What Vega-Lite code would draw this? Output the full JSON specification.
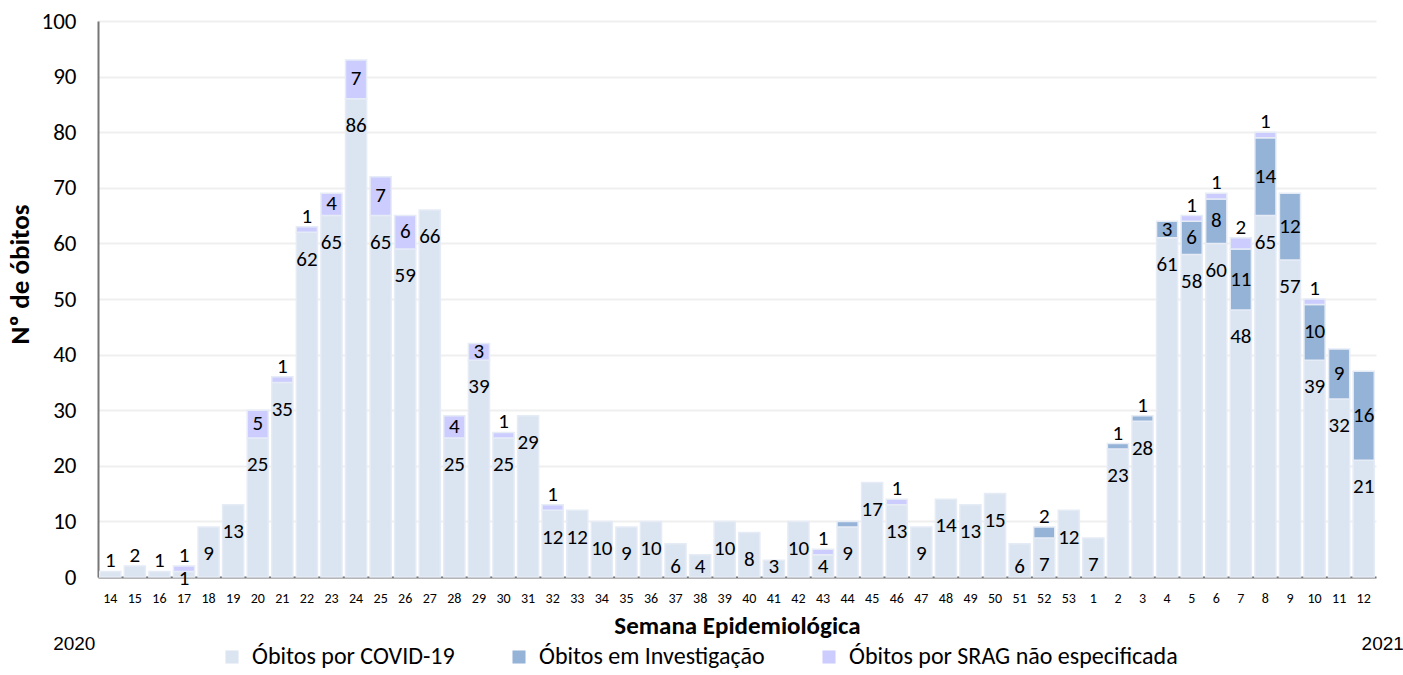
{
  "$schema": "https://vega.github.io/schema/vega-lite/v6.json",
  "width": 1278,
  "height": 556,
  "padding": {"left": 6, "top": 10, "right": 25, "bottom": 0},
  "background": "white",
  "config": {
    "font": "Carlito, Calibri, Liberation Sans, sans-serif",
    "view": {"stroke": null}
  },
  "data": {
    "values": [
      {"semana": "14", "covid": 1, "inv": 0, "srag": 0},
      {"semana": "15", "covid": 2, "inv": 0, "srag": 0},
      {"semana": "16", "covid": 1, "inv": 0, "srag": 0},
      {"semana": "17", "covid": 1, "inv": 0, "srag": 1},
      {"semana": "18", "covid": 9, "inv": 0, "srag": 0},
      {"semana": "19", "covid": 13, "inv": 0, "srag": 0},
      {"semana": "20", "covid": 25, "inv": 0, "srag": 5},
      {"semana": "21", "covid": 35, "inv": 0, "srag": 1},
      {"semana": "22", "covid": 62, "inv": 0, "srag": 1},
      {"semana": "23", "covid": 65, "inv": 0, "srag": 4},
      {"semana": "24", "covid": 86, "inv": 0, "srag": 7},
      {"semana": "25", "covid": 65, "inv": 0, "srag": 7},
      {"semana": "26", "covid": 59, "inv": 0, "srag": 6},
      {"semana": "27", "covid": 66, "inv": 0, "srag": 0},
      {"semana": "28", "covid": 25, "inv": 0, "srag": 4},
      {"semana": "29", "covid": 39, "inv": 0, "srag": 3},
      {"semana": "30", "covid": 25, "inv": 0, "srag": 1},
      {"semana": "31", "covid": 29, "inv": 0, "srag": 0},
      {"semana": "32", "covid": 12, "inv": 0, "srag": 1},
      {"semana": "33", "covid": 12, "inv": 0, "srag": 0},
      {"semana": "34", "covid": 10, "inv": 0, "srag": 0},
      {"semana": "35", "covid": 9, "inv": 0, "srag": 0},
      {"semana": "36", "covid": 10, "inv": 0, "srag": 0},
      {"semana": "37", "covid": 6, "inv": 0, "srag": 0},
      {"semana": "38", "covid": 4, "inv": 0, "srag": 0},
      {"semana": "39", "covid": 10, "inv": 0, "srag": 0},
      {"semana": "40", "covid": 8, "inv": 0, "srag": 0},
      {"semana": "41", "covid": 3, "inv": 0, "srag": 0},
      {"semana": "42", "covid": 10, "inv": 0, "srag": 0},
      {"semana": "43", "covid": 4, "inv": 0, "srag": 1},
      {"semana": "44", "covid": 9, "inv": 1, "srag": 0},
      {"semana": "45", "covid": 17, "inv": 0, "srag": 0},
      {"semana": "46", "covid": 13, "inv": 0, "srag": 1},
      {"semana": "47", "covid": 9, "inv": 0, "srag": 0},
      {"semana": "48", "covid": 14, "inv": 0, "srag": 0},
      {"semana": "49", "covid": 13, "inv": 0, "srag": 0},
      {"semana": "50", "covid": 15, "inv": 0, "srag": 0},
      {"semana": "51", "covid": 6, "inv": 0, "srag": 0},
      {"semana": "52", "covid": 7, "inv": 2, "srag": 0},
      {"semana": "53", "covid": 12, "inv": 0, "srag": 0},
      {"semana": "1", "covid": 7, "inv": 0, "srag": 0},
      {"semana": "2", "covid": 23, "inv": 1, "srag": 0},
      {"semana": "3", "covid": 28, "inv": 1, "srag": 0},
      {"semana": "4", "covid": 61, "inv": 3, "srag": 0},
      {"semana": "5", "covid": 58, "inv": 6, "srag": 1},
      {"semana": "6", "covid": 60, "inv": 8, "srag": 1},
      {"semana": "7", "covid": 48, "inv": 11, "srag": 2},
      {"semana": "8", "covid": 65, "inv": 14, "srag": 1},
      {"semana": "9", "covid": 57, "inv": 12, "srag": 0},
      {"semana": "10", "covid": 39, "inv": 10, "srag": 1},
      {"semana": "11", "covid": 32, "inv": 9, "srag": 0},
      {"semana": "12", "covid": 21, "inv": 16, "srag": 0}
    ]
  },
  "transform": [
    {"calculate": "datum.covid + datum.inv + datum.srag", "as": "total"},
    {"fold": ["covid", "inv", "srag"], "as": ["key", "n"]},
    {"filter": "datum.n > 0"},
    {"calculate": "datum.key == 'covid' ? 'Óbitos por COVID-19' : datum.key == 'inv' ? 'Óbitos em Investigação' : 'Óbitos por SRAG não especificada'", "as": "tipo"},
    {"calculate": "datum.key == 'covid' ? 0 : datum.key == 'inv' ? 1 : 2", "as": "ord"},
    {"stack": "n", "groupby": ["semana"], "sort": [{"field": "ord", "order": "ascending"}], "as": ["y0", "y1"]},
    {"calculate": "datum.key == 'covid' ? (datum.n >= 3 ? max(datum.n - 4.9, 1.8) : (datum.total == datum.n ? datum.n + 1.8 : -0.4)) : (datum.n >= 3 ? (datum.y0 + datum.y1) / 2 : datum.y1 + 1.8)", "as": "ylab"}
  ],
  "layer": [
    {
      "mark": {"type": "bar", "stroke": "#e6ecf6", "strokeWidth": 1.5},
      "encoding": {
        "x": {
          "field": "semana",
          "type": "ordinal",
          "sort": null,
          "scale": {"paddingInner": 0.14, "paddingOuter": 0.07},
          "axis": {
            "title": "Semana Epidemiológica",
            "titleFontSize": 25,
            "titleFontWeight": "bold",
            "titleColor": "#000000",
            "titlePadding": 8,
            "labelAngle": 0,
            "labelFontSize": 14,
            "labelColor": "#000000",
            "labelPadding": 14,
            "ticks": false,
            "domainColor": "#767676",
            "domainWidth": 2
          }
        },
        "y": {
          "field": "y0",
          "type": "quantitative",
          "scale": {"domain": [0, 100], "nice": false},
          "axis": {
            "title": "Nº de óbitos",
            "titleFontSize": 27,
            "titleFontWeight": "bold",
            "titleColor": "#000000",
            "titlePadding": 7,
            "titleY": 253,
            "values": [0, 10, 20, 30, 40, 50, 60, 70, 80, 90, 100],
            "labelFontSize": 23,
            "labelColor": "#000000",
            "labelPadding": 22,
            "ticks": false,
            "tickSize": 0,
            "domainColor": "#767676",
            "domainWidth": 2,
            "gridColor": "#efefef",
            "gridWidth": 2
          }
        },
        "y2": {"field": "y1"},
        "color": {
          "field": "tipo",
          "type": "nominal",
          "scale": {
            "domain": ["Óbitos por COVID-19", "Óbitos em Investigação", "Óbitos por SRAG não especificada"],
            "range": ["#dbe4f1", "#95b3d7", "#ccccff"]
          },
          "legend": {
            "orient": "none",
            "legendX": 122,
            "legendY": 624,
            "direction": "horizontal",
            "title": null,
            "symbolType": "square",
            "symbolSize": 170,
            "symbolStrokeWidth": 0,
            "symbolOffset": 0,
            "labelOffset": 8,
            "labelFontSize": 24,
            "labelColor": "#000000",
            "labelLimit": 500,
            "columnPadding": 52,
            "padding": 0
          }
        }
      }
    },
    {
      "transform": [{"filter": "!(datum.semana == '44' && datum.key == 'inv')"}],
      "mark": {"type": "text", "fontSize": 21, "color": "#000000", "baseline": "middle"},
      "encoding": {
        "x": {"field": "semana", "type": "ordinal", "sort": null},
        "y": {"field": "ylab", "type": "quantitative"},
        "text": {"field": "n", "type": "quantitative"}
      }
    },
    {
      "data": {"values": [{"ano": "2020", "semana": "14"}]},
      "mark": {"type": "text", "fontSize": 19, "font": "Liberation Sans", "color": "#000000", "dx": -36, "dy": 67, "baseline": "middle"},
      "encoding": {
        "x": {"field": "semana", "type": "ordinal", "sort": null},
        "y": {"datum": 0, "type": "quantitative"},
        "text": {"field": "ano"}
      }
    },
    {
      "data": {"values": [{"ano": "2021", "semana": "12"}]},
      "mark": {"type": "text", "fontSize": 19, "font": "Liberation Sans", "color": "#000000", "dx": 19, "dy": 67, "baseline": "middle"},
      "encoding": {
        "x": {"field": "semana", "type": "ordinal", "sort": null},
        "y": {"datum": 0, "type": "quantitative"},
        "text": {"field": "ano"}
      }
    }
  ]
}
